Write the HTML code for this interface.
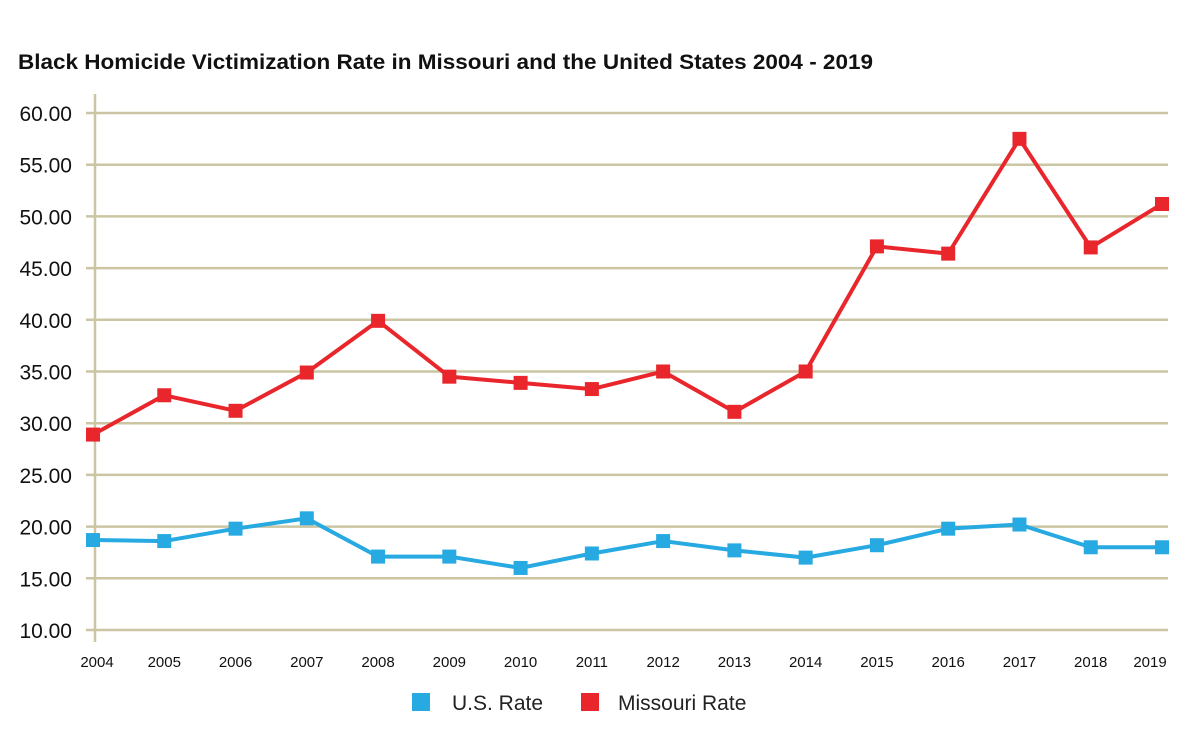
<!DOCTYPE html>
<html><head><meta charset="utf-8"><style>
body{margin:0;background:#fff;font-family:"Liberation Sans",sans-serif}
</style></head><body>
<svg width="1200" height="747" viewBox="0 0 1200 747">
<text x="18" y="69" font-size="21" font-weight="bold" fill="#111" textLength="855" lengthAdjust="spacingAndGlyphs">Black Homicide Victimization Rate in Missouri and the United States 2004 - 2019</text>
<g id="grid"></g>
<g id="ylab"></g>
<g id="xlab"></g>
<g id="series"></g>
<g>
<rect x="412" y="693" width="18" height="18" fill="#27a9e1"/>
<text x="452" y="710" font-size="21" fill="#222">U.S. Rate</text>
<rect x="581" y="693" width="18" height="18" fill="#e8262b"/>
<text x="618" y="710" font-size="21" fill="#222">Missouri Rate</text>
</g>
</svg>
<script>
const years=[2004,2005,2006,2007,2008,2009,2010,2011,2012,2013,2014,2015,2016,2017,2018,2019];
const missouri=[28.9,32.7,31.2,34.9,39.9,34.5,33.9,33.3,35.0,31.1,35.0,47.1,46.4,57.5,47.0,51.2];
const usRate=[18.7,18.6,19.8,20.8,17.1,17.1,16.0,17.4,18.6,17.7,17.0,18.2,19.8,20.2,18.0,18.0];
const yTicks=[10,15,20,25,30,35,40,45,50,55,60];
const NS="http://www.w3.org/2000/svg";
const y=v=>630-(v-10)*517/50;
const x=i=>93+i*(1162-93)/(years.length-1);
function mk(t,a,p){const e=document.createElementNS(NS,t);for(const k in a)e.setAttribute(k,a[k]);p.appendChild(e);return e;}
const grid=document.getElementById('grid'),yl=document.getElementById('ylab'),xl=document.getElementById('xlab'),s=document.getElementById('series');
yTicks.forEach(v=>{
 const l=mk('line',{x1:86,x2:1168,y1:y(v),y2:y(v),stroke:'#cbc5a3','stroke-width':2.5},grid);
 
 
 const t=mk('text',{x:72,y:y(v)+8,'font-size':21,fill:'#111','text-anchor':'end'},yl);
 t.textContent=v.toFixed(2);
 
 
});
const ax=mk('line',{x1:95,x2:95,y1:94,y2:642,stroke:'#cbc5a3','stroke-width':2.5},grid);


years.forEach((yr,i)=>{
 let cx=x(i); if(i==0)cx=97; if(i==years.length-1)cx=1150;
 const t=mk('text',{x:cx,y:667,'font-size':15,fill:'#111','text-anchor':'middle'},xl);
 t.textContent=yr;
 
 
});
function draw(vals,col,name){
 const p=mk('polyline',{points:vals.map((v,i)=>x(i)+','+y(v)).join(' '),fill:'none',stroke:col,'stroke-width':4,'stroke-linejoin':'round'},s);
 
 
 vals.forEach((v,i)=>{
  const r=mk('rect',{x:x(i)-7,y:y(v)-7,width:14,height:14,fill:col},s);
  
  
 });
}
draw(usRate,'#27a9e1','us-rate');
draw(missouri,'#e8262b','missouri-rate');
</script>
</body></html>
